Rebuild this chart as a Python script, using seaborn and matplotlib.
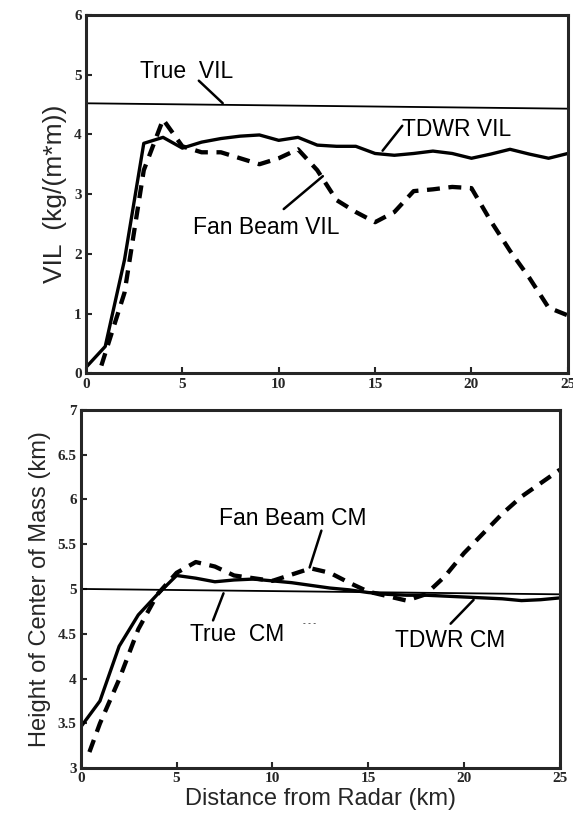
import numpy as np
import pandas as pd
import matplotlib
matplotlib.use("Agg")
import matplotlib.pyplot as plt
import seaborn as sns

# distance from radar (km)
dist = list(range(0, 26))

# top panel: VIL (kg/(m*m))
tdwr_vil = [0.1, 0.45, 1.9, 3.85, 3.95, 3.77, 3.87, 3.93, 3.97, 3.99, 3.9, 3.95, 3.82,
            3.8, 3.8, 3.68, 3.65, 3.68, 3.72, 3.68, 3.6, 3.67, 3.75, 3.67, 3.6, 3.68]
fan_dist = [0.8, 2, 3, 4, 5, 6, 7, 8, 9, 10, 11, 12, 13, 14, 15, 16, 17, 18, 19, 20,
            21, 22, 23, 24, 25]
fan_vil = [0.13, 1.35, 3.4, 4.25, 3.8, 3.7, 3.7, 3.6, 3.5, 3.6, 3.75, 3.4, 2.9,
           2.7, 2.53, 2.7, 3.05, 3.08, 3.12, 3.1, 2.55, 2.05, 1.6, 1.1, 0.97]
true_vil_x = [0, 25]
true_vil = [4.52, 4.43]

# bottom panel: height of center of mass (km)
tdwr_cm = [3.46, 3.75, 4.36, 4.71, 4.94, 5.15, 5.12, 5.08, 5.1, 5.11, 5.09, 5.07, 5.04,
           5.01, 4.99, 4.96, 4.94, 4.93, 4.93, 4.92, 4.91, 4.9, 4.89, 4.87, 4.88, 4.9]
fan_cm_dist = [0.45] + list(range(1, 26))
fan_cm = [3.18, 3.5, 3.99, 4.55, 4.94, 5.18, 5.3, 5.25, 5.15, 5.12, 5.09, 5.16, 5.23,
          5.18, 5.07, 4.97, 4.92, 4.87, 4.94, 5.14, 5.4, 5.62, 5.84, 6.03, 6.18, 6.33]
true_cm_x = [0, 25]
true_cm = [5.0, 4.94]

sns.set_style("ticks")
plt.rcParams["font.family"] = ["Liberation Sans", "DejaVu Sans"]

fig = plt.figure(figsize=(5.73, 8.26), dpi=100)
ax1 = fig.add_axes([0.150, 0.548, 0.841, 0.434])
ax2 = fig.add_axes([0.141, 0.070, 0.836, 0.434])

dash = (0, (3.0, 2.0))
sns.lineplot(x=dist, y=tdwr_vil, ax=ax1, color="black", linewidth=2.4)
sns.lineplot(x=fan_dist, y=fan_vil, ax=ax1, color="black", linewidth=3.1, linestyle=dash)
sns.lineplot(x=true_vil_x, y=true_vil, ax=ax1, color="black", linewidth=1.3)

sns.lineplot(x=dist, y=tdwr_cm, ax=ax2, color="black", linewidth=2.4)
sns.lineplot(x=fan_cm_dist, y=fan_cm, ax=ax2, color="black", linewidth=3.1, linestyle=dash)
sns.lineplot(x=true_cm_x, y=true_cm, ax=ax2, color="black", linewidth=1.3)

tick_font = {"family": "Liberation Serif", "weight": "bold", "size": 11}
for ax in (ax1, ax2):
    ax.set_xlim(0, 25)
    ax.set_xticks([0, 5, 10, 15, 20, 25])
    ax.set_xticklabels(["0", "5", "10", "15", "20", "25"], fontdict=tick_font)
    for s in ax.spines.values():
        s.set_linewidth(2.2)
        s.set_visible(True)
    ax.tick_params(direction="in", length=4, width=1.5, pad=3)

ax1.set_ylim(0, 6)
ax1.set_yticks(range(0, 7))
ax1.set_yticklabels([str(v) for v in range(0, 7)], fontdict=tick_font)
ax2.set_ylim(3, 7)
ax2.set_yticks([3, 3.5, 4, 4.5, 5, 5.5, 6, 6.5, 7])
ax2.set_yticklabels(["3", "3.5", "4", "4.5", "5", "5.5", "6", "6.5", "7"], fontdict=tick_font)

ax1.set_ylabel("VIL  (kg/(m*m))", fontsize=19, labelpad=5)
ax2.set_ylabel("Height of Center of Mass (km)", fontsize=17, labelpad=5)
ax2.set_xlabel("Distance from Radar (km)", fontsize=17, labelpad=2)

lab = dict(fontsize=16.5, color="black")
line_kw = dict(arrowstyle="-", color="black", lw=1.8)
ax1.annotate("True  VIL", xy=(7.2, 4.49), xytext=(2.8, 5.05), va="center", ha="left", **lab)
ax1.annotate("", xy=(7.2, 4.49), xytext=(5.75, 4.93), arrowprops=line_kw)
ax1.annotate("TDWR VIL", xy=(15.3, 3.69), xytext=(16.4, 4.08), va="center", ha="left", **lab)
ax1.annotate("", xy=(15.3, 3.69), xytext=(16.5, 4.18), arrowprops=line_kw)
ax1.annotate("Fan Beam VIL", xy=(12.4, 3.33), xytext=(5.55, 2.44), va="center", ha="left", **lab)
ax1.annotate("", xy=(12.4, 3.33), xytext=(10.15, 2.72), arrowprops=line_kw)

ax2.annotate("Fan Beam CM", xy=(11.9, 5.21), xytext=(7.2, 5.79), va="center", ha="left", **lab)
ax2.annotate("", xy=(11.9, 5.21), xytext=(12.6, 5.68), arrowprops=line_kw)
ax2.annotate("True  CM", xy=(7.5, 4.98), xytext=(5.7, 4.49), va="center", ha="left", **lab)
ax2.annotate("", xy=(7.5, 4.98), xytext=(6.85, 4.62), arrowprops=line_kw)
ax2.annotate("TDWR CM", xy=(20.6, 4.9), xytext=(16.4, 4.42), va="center", ha="left", **lab)
ax2.annotate("", xy=(20.6, 4.9), xytext=(19.2, 4.59), arrowprops=line_kw)
ax2.text(11.6, 4.6, "- - -", fontsize=6, color="black")

fig.savefig("out.png", dpi=100)
